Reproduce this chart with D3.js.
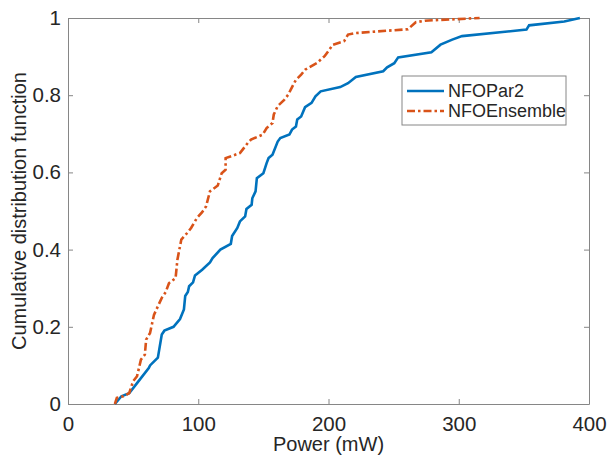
<!DOCTYPE html>
<html>
<head>
<meta charset="utf-8">
<script src="https://cdn.jsdelivr.net/npm/d3@7"></script>
<style>
  body { margin: 0; background: #fff; }
  text { font-family: Arial, "Liberation Sans", Helvetica, sans-serif; fill: #262626; }
</style>
</head>
<body>
<script>
// chart size
const width = 607, height = 466;
const margin = {top: 18, right: 18, bottom: 62, left: 68};

// series values (power in mW, cdf)
var par2_power = [36, 41, 47, 53, 62, 63, 69, 72, 74, 81, 86, 89, 90, 92, 93, 96, 97.5, 103, 109, 111, 117, 125, 126, 130, 132, 136, 137, 141, 141.5, 144, 145, 150, 152.5, 154, 157, 161, 163, 170, 172, 175, 176, 179, 182, 187, 190, 194, 209, 215, 221, 242, 245, 250.5, 253.5, 279, 286, 295, 302.5, 352, 354, 381, 393];
var par2_cdf = [0, 0.02, 0.028, 0.054, 0.093, 0.10, 0.12, 0.18, 0.19, 0.20, 0.22, 0.245, 0.28, 0.29, 0.305, 0.315, 0.333, 0.348, 0.367, 0.378, 0.40, 0.415, 0.435, 0.456, 0.473, 0.486, 0.505, 0.516, 0.533, 0.551, 0.585, 0.598, 0.624, 0.637, 0.646, 0.68, 0.689, 0.698, 0.711, 0.719, 0.737, 0.745, 0.769, 0.78, 0.797, 0.81, 0.821, 0.831, 0.847, 0.862, 0.872, 0.883, 0.898, 0.911, 0.931, 0.944, 0.953, 0.97, 0.981, 0.991, 1.0];

var ens_power = [36, 37.5, 42.5, 47, 50, 53, 56, 59, 60, 63, 66, 69, 72, 75, 77.5, 82.6, 84, 87, 91.5, 94.5, 99, 103, 106, 109, 115, 118, 121, 121, 132, 138, 140.5, 149.5, 152.5, 157, 158, 161, 166, 169, 172, 175, 179, 182, 191, 197, 201.5, 203, 212, 215, 221, 245, 261, 267, 274, 298, 316];
var ens_cdf = [0, 0.016, 0.02, 0.028, 0.059, 0.072, 0.115, 0.128, 0.167, 0.184, 0.231, 0.253, 0.275, 0.29, 0.313, 0.326, 0.374, 0.426, 0.443, 0.456, 0.482, 0.497, 0.512, 0.551, 0.566, 0.598, 0.607, 0.637, 0.65, 0.676, 0.685, 0.698, 0.715, 0.728, 0.75, 0.772, 0.788, 0.801, 0.821, 0.84, 0.853, 0.866, 0.883, 0.901, 0.922, 0.93, 0.94, 0.957, 0.961, 0.967, 0.971, 0.989, 0.993, 0.997, 1.0];

var x_ticks = [0, 100, 200, 300, 400];
var y_ticks = [0, 0.2, 0.4, 0.6, 0.8, 1];
var series_names = ["NFOPar2", "NFOEnsemble"];
var series_colors = ["#0072BD", "#D95319"];

const w = width - margin.left - margin.right;
const h = height - margin.top - margin.bottom;

var svg = d3.select("body").append("svg")
    .attr("width", width)
    .attr("height", height);

var g = svg.append("g")
    .attr("transform", `translate(${margin.left},${margin.top})`);

var x = d3.scaleLinear().domain([0, 400]).range([0, w]);
var y = d3.scaleLinear().domain([0, 1]).range([h, 0]);

// axes (ticks inward on all four sides, matlab style)
function style_axis(sel) {
    sel.select(".domain").attr("stroke", "#868686").attr("stroke-width", 1);
    sel.selectAll(".tick line").attr("stroke", "#868686");
    sel.selectAll(".tick text").attr("font-size", "20.5px").attr("fill", "#262626")
        .attr("font-family", "Arial, 'Liberation Sans', sans-serif");
}

g.append("g").attr("transform", `translate(0,${h})`)
    .call(d3.axisBottom(x).tickValues(x_ticks).tickSize(-5).tickSizeOuter(0).tickPadding(12).tickFormat(d3.format("d")))
    .call(style_axis);
g.append("g")
    .call(d3.axisTop(x).tickValues(x_ticks).tickSize(-5).tickSizeOuter(0).tickFormat(""))
    .call(style_axis);
g.append("g")
    .call(d3.axisLeft(y).tickValues(y_ticks).tickSize(-5).tickSizeOuter(0).tickPadding(7).tickFormat(d => d))
    .call(style_axis);
g.append("g").attr("transform", `translate(${w},0)`)
    .call(d3.axisRight(y).tickValues(y_ticks).tickSize(-5).tickSizeOuter(0).tickFormat(""))
    .call(style_axis);

// lines
var line = d3.line().x(d => x(d[0])).y(d => y(d[1]));
var par2 = d3.zip(par2_power, par2_cdf);
var ens = d3.zip(ens_power, ens_cdf);

g.append("path").datum(par2)
    .attr("d", line)
    .attr("fill", "none")
    .attr("stroke", series_colors[0])
    .attr("stroke-width", 2.6);

g.append("path").datum(ens)
    .attr("d", line)
    .attr("fill", "none")
    .attr("stroke", series_colors[1])
    .attr("stroke-width", 2.6)
    .attr("stroke-dasharray", "8,3,2.5,3");

// axis labels
svg.append("text")
    .attr("x", margin.left + w / 2)
    .attr("y", 451)
    .attr("text-anchor", "middle")
    .attr("font-size", "20px")
    .text("Power (mW)");

svg.append("text")
    .attr("transform", `translate(26,${margin.top + h / 2}) rotate(-90)`)
    .attr("text-anchor", "middle")
    .attr("font-size", "20px")
    .text("Cumulative distribution function");

// legend
var lg = svg.append("g").attr("transform", "translate(402,76)");
lg.append("rect")
    .attr("width", 164).attr("height", 49)
    .attr("fill", "#fff").attr("stroke", "#868686").attr("stroke-width", 1);

series_names.forEach(function(name, i) {
    var yy = 15 + i * 20;
    lg.append("line")
        .attr("x1", 5).attr("x2", 42).attr("y1", yy).attr("y2", yy)
        .attr("stroke", series_colors[i]).attr("stroke-width", 2.6)
        .attr("stroke-dasharray", i == 1 ? "8,3,2.5,3" : null);
    lg.append("text")
        .attr("x", 46).attr("y", yy + 6)
        .attr("font-size", "18px")
        .text(name);
});
</script>
</body>
</html>
